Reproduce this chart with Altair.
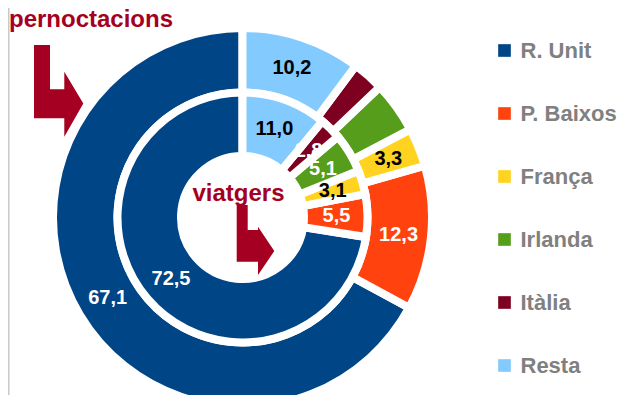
import altair as alt
import pandas as pd

# ---- data ----
countries = ["R. Unit", "P. Baixos", "França", "Irlanda", "Itàlia", "Resta"]
colors = ["#004586", "#ff420e", "#ffd320", "#579d1c", "#7e0021", "#83caff"]
pernoctacions = [67.1, 12.3, 3.3, 4.4, 2.7, 10.2]
viatgers = [72.5, 5.5, 3.1, 5.1, 2.8, 11.0]
stack_order = [5, 4, 3, 2, 1, 0]          # clockwise from 12 o'clock: Resta first
outer_label_color = ["white", "white", "black", "white", "white", "black"]
outer_label_shown = [True, True, True, False, False, True]
inner_label_color = ["white", "white", "black", "white", "white", "black"]


def fmt(v):
    return f"{v:.1f}".replace(".", ",")


outer_df = pd.DataFrame({
    "country": countries,
    "value": pernoctacions,
    "ord": stack_order,
    "label": [fmt(v) if s else "" for v, s in zip(pernoctacions, outer_label_shown)],
    "tcol": outer_label_color,
})
inner_df = pd.DataFrame({
    "country": countries,
    "value": viatgers,
    "ord": stack_order,
    "label": [fmt(v) for v in viatgers],
    "tcol": inner_label_color,
})

# ---- layout (vega coordinates = page - 8) ----
CX, CY = 234.5, 209.5
TITLE_RED = "#a50021"
FONT = "Liberation Sans"

color_scale = alt.Scale(domain=countries, range=colors)

outer_arc = alt.Chart(outer_df).mark_arc(
    x=CX, y=CY, radius=189.5, radius2=125, stroke="white", strokeWidth=8
).encode(
    theta=alt.Theta("value:Q", stack=True),
    order=alt.Order("ord:Q"),
    color=alt.Color(
        "country:N", scale=color_scale,
        legend=alt.Legend(
            orient="none", legendX=485.5, legendY=31.5, title=None,
            symbolType="square", symbolSize=160, symbolStrokeWidth=0,
            symbolStrokeColor="transparent",
            labelFontSize=22, labelFont=FONT, labelFontWeight="bold",
            labelColor="#808080", rowPadding=41, labelOffset=5, padding=0,
            labelLimit=200,
        ),
        sort=countries,
    ),
)

inner_arc = alt.Chart(inner_df).mark_arc(
    x=CX, y=CY, radius=125, radius2=61.5, stroke="white", strokeWidth=8
).encode(
    theta=alt.Theta("value:Q", stack=True),
    order=alt.Order("ord:Q"),
    color=alt.Color("country:N", scale=color_scale, legend=None, sort=countries),
)

outer_txt = alt.Chart(outer_df).mark_text(
    x=CX, y=CY, radius=157, font=FONT, fontWeight="bold", fontSize=20,
    align="center", baseline="middle"
).encode(
    theta=alt.Theta("value:Q", stack=True),
    order=alt.Order("ord:Q"),
    text="label:N",
    color=alt.Color("tcol:N", scale=None),
)

inner_txt = alt.Chart(inner_df).mark_text(
    x=CX, y=CY, radius=94, font=FONT, fontWeight="bold", fontSize=20,
    align="center", baseline="middle"
).encode(
    theta=alt.Theta("value:Q", stack=True),
    order=alt.Order("ord:Q"),
    text="label:N",
    color=alt.Color("tcol:N", scale=None),
)

# ---- annotations ----
def arrow(pts):
    xs, ys = zip(*pts)
    cx = (min(xs) + max(xs)) / 2
    cy = (min(ys) + max(ys)) / 2
    half = max(max(xs) - min(xs), max(ys) - min(ys)) / 2
    path = "M" + " L".join(f"{(x - cx) / half:.4f},{(y - cy) / half:.4f}" for x, y in pts) + " Z"
    return path, cx - 8, cy - 8, (2 * half) ** 2


arrow1_pts = [(34, 45), (50, 45), (50, 89.3), (64.3, 89.3), (64.3, 71.7),
              (83.3, 103.5), (64.3, 136.7), (64.3, 118.3), (34, 118.3)]
arrow2_pts = [(236.7, 205), (247.7, 205), (247.7, 230), (258, 230), (258, 226.7),
              (274.3, 251), (258, 275), (258, 261.7), (236.7, 261.7)]

one = pd.DataFrame({"a": [0]})
arrows = []
for pts in (arrow1_pts, arrow2_pts):
    p, ax, ay, sz = arrow(pts)
    arrows.append(
        alt.Chart(one).mark_point(shape=p, size=sz, filled=True, fill=TITLE_RED,
                                  opacity=1, strokeWidth=0)
        .encode(x=alt.value(ax), y=alt.value(ay))
    )

title1 = alt.Chart(pd.DataFrame({"t": ["pernoctacions"]})).mark_text(
    font=FONT, fontWeight="bold", fontSize=24, color=TITLE_RED,
    align="left", baseline="alphabetic"
).encode(text="t:N", x=alt.value(1), y=alt.value(18.7))

title2 = alt.Chart(pd.DataFrame({"t": ["viatgers"]})).mark_text(
    font=FONT, fontWeight="bold", fontSize=24, color=TITLE_RED,
    align="center", baseline="alphabetic"
).encode(text="t:N", x=alt.value(230.5), y=alt.value(192.7))

border = alt.Chart(one).mark_rule(color="#c8c8c8", strokeWidth=1.5).encode(
    x=alt.value(0.8), y=alt.value(0), y2=alt.value(395)
)

chart = alt.layer(
    outer_arc, inner_arc, outer_txt, inner_txt, arrows[0], arrows[1], title1, title2, border
).properties(
    width=614, height=387, padding=0,
    autosize=alt.AutoSizeParams(type="none"),
).configure_view(stroke=None)

chart.save("out.html", embed_options={"renderer": "svg", "actions": False})
